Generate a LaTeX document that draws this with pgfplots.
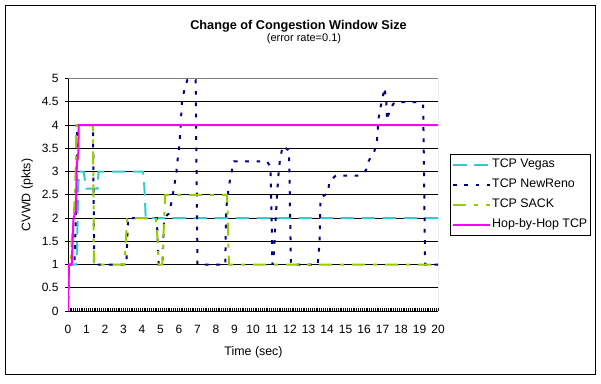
\documentclass[border=0pt]{standalone}
\usepackage{fontspec}
\setmainfont{Liberation Sans}
\usepackage{pgfplots}
\pgfplotsset{compat=1.18}
\definecolor{vegas}{RGB}{51,204,204}
\definecolor{newreno}{RGB}{0,0,128}
\definecolor{sack}{RGB}{153,204,0}
\definecolor{hop}{RGB}{255,0,255}
\definecolor{pgray}{RGB}{128,128,128}
\begin{document}
\begin{tikzpicture}
\path (-68bp,-73bp) rectangle (533bp,311bp);
\begin{axis}[
  scale only axis, width=370bp, height=232.5bp,
  xmin=0, xmax=20, ymin=0, ymax=5,
  axis x line*=bottom, axis y line*=left,
  axis line style={black, line width=1bp, -},
  xtick={0,1,...,20}, ytick={0,0.5,...,5},
  minor x tick num=9,
  tick align=inside,
  major tick length=3bp, minor tick length=3bp,
  xtick style={black, line width=0.7bp},
  ytick style={black, line width=0.8bp, xshift=-3bp},
  ymajorgrids, major grid style={black, line width=0.9bp},
  /pgf/number format/assume math mode=true,
  tick label style={font=\fontsize{12bp}{14bp}\selectfont},
  xticklabel style={yshift=-11bp},
  yticklabel style={xshift=-6bp},
  xlabel={Time (sec)}, ylabel={CVWD (pkts)},
  label style={font=\fontsize{12.4bp}{14bp}\selectfont},
  xlabel style={at={(axis description cs:0.5014,0)}, anchor=base, yshift=-44bp},
  ylabel style={at={(axis description cs:-0.1014,0.499)}, anchor=base},
  legend style={at={(axis description cs:1.0324,0.5)}, anchor=west, draw=black, fill=white,
    font=\fontsize{12.4bp}{14bp}\selectfont, inner xsep=2bp, inner ysep=2.5bp,
    row sep=4bp, column sep=0bp,
    nodes={inner xsep=1bp, inner ysep=2bp, text height=9bp, text depth=3bp}},
  legend cell align=left,
  legend image code/.code={\draw (0bp,0bp) -- (37bp,0bp);},
]
\addplot[vegas, line width=2bp, dash pattern=on 13.5bp off 7.5bp] coordinates {
(0,0) (0.05,1) (0.45,1) (0.5,1.5) (0.52,2) (0.55,2.7) (0.62,3) (0.85,3) (0.9,2.85) (1.0,2.63) (1.6,2.63) (1.65,3) (4.05,3) (4.1,2.85) (4.15,2.5) (4.2,2) (20,2)};
\addlegendentry{TCP Vegas}
\addplot[newreno, line width=2bp, dash pattern=on 3.7bp off 7.6bp] coordinates {
(0,0) (0.05,1) (0.35,1) (0.42,2) (0.46,3) (0.5,4) (1.35,4) (1.42,1) (3.15,1) (3.25,2) (4.8,2) (4.9,1) (5.1,1) (5.2,2) (5.45,2.1) (5.6,2.35) (5.75,2.7) (5.86,3.0) (5.93,3.27) (6.0,3.5) (6.05,3.73) (6.09,4.0) (6.16,4.5) (6.27,4.72) (6.45,4.97) (6.9,4.97) (7.0,1) (8.5,1) (8.55,2.2) (8.67,2.6) (8.76,2.83) (8.88,3.07) (8.97,3.22) (10.75,3.22) (10.95,3.1) (11.05,1) (11.12,1.2) (11.2,1.8) (11.3,2.5) (11.39,3.0) (11.45,3.22) (11.6,3.55) (11.95,3.45) (12.05,1) (13.5,1) (13.6,1.5) (13.65,2.43) (14.05,2.54) (14.13,2.79) (14.47,2.91) (15.78,2.91) (16.1,3.02) (16.27,3.24) (16.54,3.41) (16.69,3.61) (16.74,3.86) (16.78,4.12) (16.86,4.33) (17.0,4.56) (17.1,4.8) (17.2,4.56) (17.25,4.1) (17.3,4.2) (17.5,4.4) (17.65,4.49) (18.9,4.49) (19.2,4.45) (19.3,1) (20,1)};
\addlegendentry{TCP NewReno}
\addplot[sack, line width=2bp, dash pattern=on 13bp off 8bp on 4bp off 8bp] coordinates {
(0,0) (0.05,1) (0.15,1) (0.2,1.5) (0.3,2) (0.38,2.5) (0.43,3.3) (0.45,4) (1.35,4) (1.4,1) (3.05,1) (3.2,2) (4.75,2) (4.85,1.5) (4.9,1) (5.1,1) (5.25,2.5) (8.6,2.5) (8.7,1) (20,1)};
\addlegendentry{TCP SACK}
\addplot[hop, line width=2bp] coordinates {
(0,0) (0,0.5) (0.03,0.5) (0.05,1) (0.2,1) (0.25,1.5) (0.3,2) (0.43,2.15) (0.48,3.2) (0.55,3.3) (0.58,4) (20,4)};
\addlegendentry{Hop-by-Hop TCP}
\draw[pgray, line width=1bp] (rel axis cs:0,1) -- (rel axis cs:1,1) -- (rel axis cs:1,0);
\end{axis}
\node[font=\fontsize{12.7bp}{15bp}\selectfont\bfseries, anchor=base] at (230.5bp,281.7bp) {Change of Congestion Window Size};
\node[font=\fontsize{11bp}{13bp}\selectfont, anchor=base] at (236bp,269.7bp) {(error rate=0.1)};
\draw[black, line width=1bp] (-62.6bp,-63bp) rectangle (527bp,305.7bp);
\end{tikzpicture}
\end{document}
